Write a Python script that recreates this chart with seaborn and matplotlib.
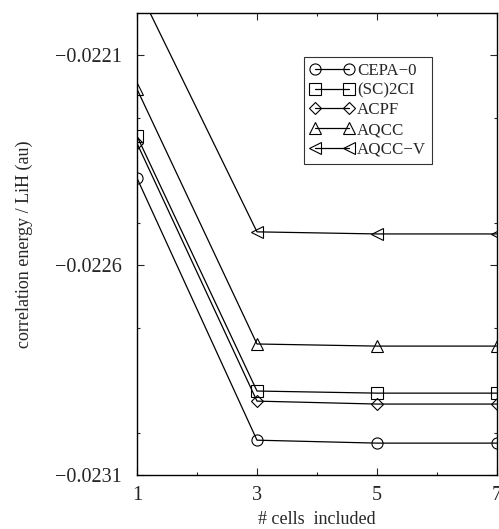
import matplotlib
matplotlib.use("Agg")
import matplotlib.pyplot as plt
from matplotlib.ticker import MultipleLocator
import seaborn as sns
import pandas as pd

cells = [1, 3, 5, 7]
methods = ["CEPA\u22120", "(SC)2CI", "ACPF", "AQCC", "AQCC\u2212V"]
cepa0 = [-0.022393, -0.023017, -0.023024, -0.023024]
sc2ci = [-0.022293, -0.022900, -0.022905, -0.022905]
acpf = [-0.022310, -0.022924, -0.022931, -0.022931]
aqcc = [-0.022181, -0.022788, -0.022793, -0.022793]
aqccv = [-0.021936, -0.022521, -0.022526, -0.022526]
marker_shapes = ["o", "s", "D", "^", "<"]
yticks = [-0.0231, -0.0226, -0.0221]
ytick_labels = ["\u22120.0231", "\u22120.0226", "\u22120.0221"]

rows = []
for name, vals in zip(methods, [cepa0, sc2ci, acpf, aqcc, aqccv]):
    for c, v in zip(cells, vals):
        rows.append({"cells": c, "energy": v, "method": name})
df = pd.DataFrame(rows)

sns.set_style("ticks")
plt.rcParams["font.family"] = ["Liberation Serif", "DejaVu Serif"]

fig = plt.figure(figsize=(4.99, 5.29), dpi=100)
ax = fig.add_axes([0.2745, 0.102, 0.7215, 0.8734])

sns.lineplot(data=df, x="cells", y="energy", hue="method", style="method",
             hue_order=methods, style_order=methods,
             palette=["black"] * 5, markers=dict(zip(methods, marker_shapes)),
             dashes=False, legend=False, ax=ax, linewidth=0.9,
             markersize=8, markerfacecolor="none", markeredgecolor="black",
             markeredgewidth=0.8)
for line, m in zip(ax.lines, marker_shapes):
    if m == "D":
        line.set_markersize(6.5)

ax.set_xlim(1, 7)
ax.set_ylim(-0.0231, -0.0220)
ax.set_xticks(cells)
ax.set_xticklabels([str(c) for c in cells])
ax.set_yticks(yticks)
ax.set_yticklabels(ytick_labels)
ax.xaxis.set_minor_locator(MultipleLocator(1))
ax.yaxis.set_minor_locator(MultipleLocator(0.00025))
ax.tick_params(which="both", direction="in", top=True, right=True,
               labelsize=14.5, width=0.8)
ax.tick_params(which="major", length=5)
ax.tick_params(axis="y", which="major", pad=11)
ax.tick_params(axis="x", which="major", pad=8)
ax.tick_params(which="minor", length=2.5)
for s in ax.spines.values():
    s.set_linewidth(1.0)
    s.set_color("black")

ax.set_xlabel("# cells  included", fontsize=13, labelpad=4)
ax.set_ylabel("correlation energy / LiH (au)", fontsize=13, labelpad=16)

leg = ax.legend(ax.lines, methods, numpoints=2, loc="upper left",
                bbox_to_anchor=(0.465, 0.905), fontsize=12.2, frameon=True,
                fancybox=False, handlelength=2.6, handletextpad=0.15,
                labelspacing=0.22, borderpad=0.35, borderaxespad=0)
leg.get_frame().set_edgecolor("black")
leg.get_frame().set_linewidth(0.8)

fig.savefig("out.png", dpi=100)
